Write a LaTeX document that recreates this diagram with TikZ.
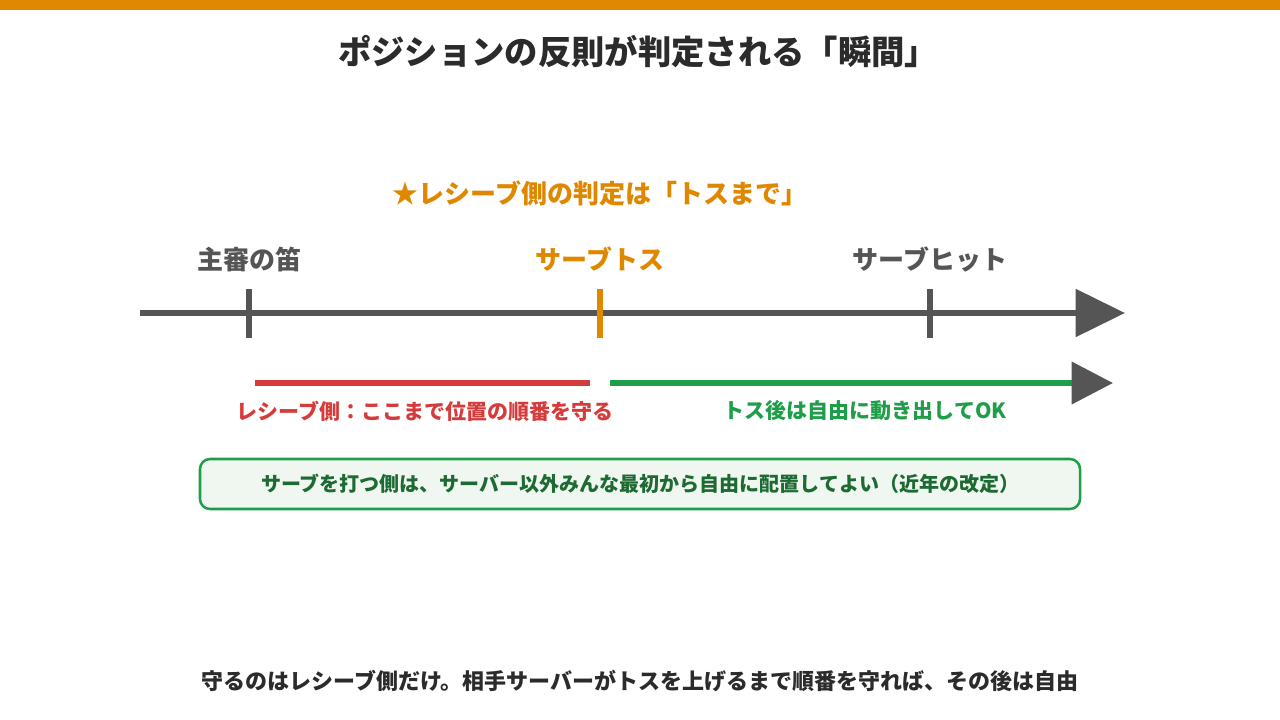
\documentclass[tikz,border=0pt]{standalone}
\usepackage{fontspec}
\setmainfont{Noto Sans CJK JP}
\usetikzlibrary{arrows.meta}
\definecolor{topbar}{HTML}{E08700}
\definecolor{ink}{HTML}{2B2B2B}
\definecolor{tlgray}{HTML}{555555}
\definecolor{recred}{HTML}{D63B3B}
\definecolor{srvgreen}{HTML}{1F9E49}
\definecolor{boxfill}{HTML}{F0F7F0}
\definecolor{boxtext}{HTML}{1E6A33}
\tikzset{
  lbl/.style={font=\bfseries\fontsize{19.5pt}{22pt}\selectfont, inner sep=0pt},
  sublbl/.style={font=\bfseries\fontsize{15.75pt}{18pt}\selectfont, inner sep=0pt},
  tick/.style={line width=4pt},
}
\begin{document}
\begin{tikzpicture}[x=0.75pt,y=-0.75pt, line join=round]
  \useasboundingbox (0,0) rectangle (1280,720);
  \fill[topbar] (0,0) rectangle (1280,10);
  % Titel
  \node[ink, font=\bfseries\fontsize{25pt}{28pt}\selectfont, inner sep=0pt] (title) at (638,52) {ポジションの反則が判定される「瞬間」};
  \node[lbl, topbar] (rule) at (600,193) {★レシーブ側の判定は「トスまで」};
  % Zeitachse
  \coordinate (tl0) at (140,313); \coordinate (tl1) at (1125,313);
  \draw[tlgray, line width=4.8pt, -{Triangle[length=37pt,width=35pt]}] (tl0) -- (tl1);
  \foreach \x/\c/\n/\t in {249/tlgray/whistle/主審の笛, 600/topbar/toss/サーブトス, 930/tlgray/hit/サーブヒット}{
    \coordinate (\n) at (\x,313);
    \draw[tick, \c] ([yshift=18pt]\n) -- ([yshift=-18.5pt]\n);
    \node[lbl, \c] (\n-lbl) at (\x,259) {\t};
  }
  % Phasen
  \coordinate (red0) at (255,383); \coordinate (red1) at (590,383);
  \coordinate (grn0) at (610,383); \coordinate (grn1) at (1113,383);
  \draw[recred, line width=4.5pt] (red0) -- (red1);
  \draw[srvgreen, line width=4.5pt, -{Triangle[length=31pt,width=31pt,color=tlgray]}] (grn0) -- (grn1);
  \node[sublbl, recred] (redlbl) at (425,411) {レシーブ側：ここまで位置の順番を守る};
  \node[sublbl, srvgreen] (grnlbl) at (865,411) {トス後は自由に動き出してOK};
  % Hinweis
  \node[draw=srvgreen, fill=boxfill, line width=1.9pt, rounded corners=7.5pt, minimum width=660pt, minimum height=37.5pt, text=boxtext, font=\bfseries\fontsize{15pt}{18pt}\selectfont] (note) at (640,484) {サーブを打つ側は、サーバー以外みんな最初から自由に配置してよい（近年の改定）};
  \node[ink, font=\bfseries\fontsize{16.5pt}{20pt}\selectfont, inner sep=0pt] (summary) at (640,681) {守るのはレシーブ側だけ。相手サーバーがトスを上げるまで順番を守れば、その後は自由};
\end{tikzpicture}
\end{document}
